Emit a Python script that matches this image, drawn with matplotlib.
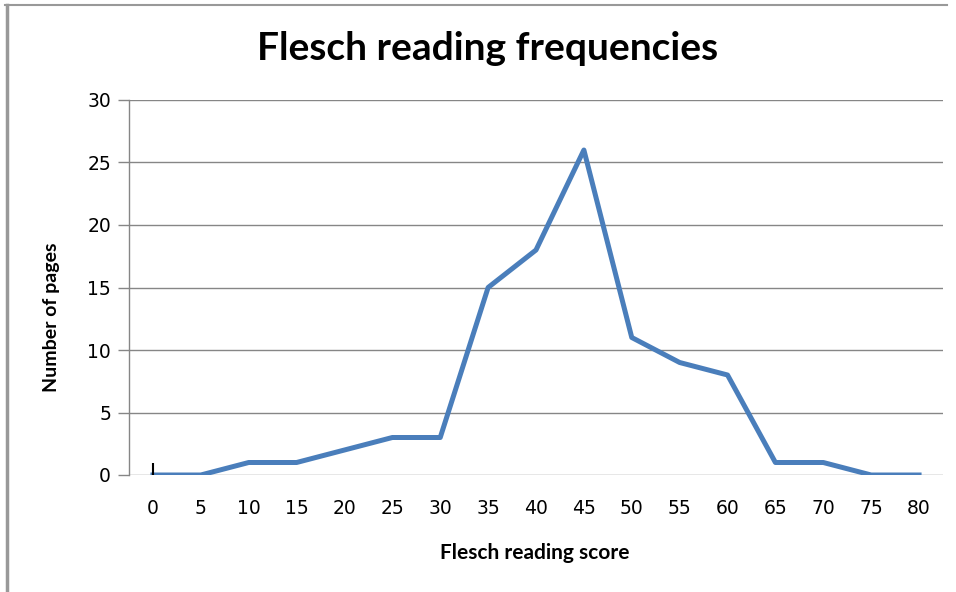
import matplotlib
matplotlib.use("Agg")
import matplotlib.pyplot as plt
from matplotlib.lines import Line2D

scores = [0, 5, 10, 15, 20, 25, 30, 35, 40, 45, 50, 55, 60, 65, 70, 75, 80]
pages = [0, 0, 1, 1, 2, 3, 3, 15, 18, 26, 11, 9, 8, 1, 1, 0, 0]
y_ticks = [0, 5, 10, 15, 20, 25, 30]
title = "Flesch reading frequencies"
x_label = "Flesch reading score"
y_label = "Number of pages"

W, H = 956, 592
fig = plt.figure(figsize=(W / 100, H / 100), dpi=100)
fig.patch.set_facecolor("white")
ax = fig.add_axes([129 / W, (H - 475) / H, (943 - 129) / W, (475 - 100) / H])

idx = list(range(len(scores)))
grid_c = "#868686"
ax.plot(idx, pages, color="#4A7EBB", lw=3.6, solid_joinstyle="round", zorder=3)
ax.vlines(idx[0], pages[0], pages[0] + 1, color="black", lw=1.5, zorder=4)

ax.set_xlim(-0.5, len(scores) - 0.5)
ax.set_ylim(0, 30)
ax.set_yticks(y_ticks)
ax.set_xticks(idx)
ax.set_xticklabels([str(s) for s in scores])
for s in ["top", "right", "bottom"]:
    ax.spines[s].set_visible(False)
ax.spines["left"].set_color(grid_c)
ax.spines["left"].set_linewidth(1)
ax.yaxis.grid(True, color=grid_c, lw=1)
ax.set_axisbelow(True)
ax.tick_params(axis="y", length=8, color=grid_c, width=1, pad=5, labelsize=13.5, labelcolor="black")
ax.tick_params(axis="x", length=0, pad=17, labelsize=13.5, labelcolor="black")
for lab in ax.get_xticklabels() + ax.get_yticklabels():
    lab.set_family("DejaVu Sans")

fig.text(488 / W, 1 - 48 / H, title, ha="center", va="center", fontsize=28,
         fontweight="bold", family="Lato")
fig.text(535 / W, 1 - 553 / H, x_label, ha="center", va="center", fontsize=15,
         fontweight="bold", family="Lato")
fig.text(52 / W, 1 - 317 / H, y_label, ha="center", va="center", fontsize=14,
         fontweight="bold", family="Lato", rotation=90)

# outer frame (top and left edges)
fig.add_artist(Line2D([5 / W, 947 / W], [1 - 5 / H, 1 - 5 / H], color="#999999", lw=1.5))
fig.add_artist(Line2D([7 / W, 7 / W], [0, 1 - 5 / H], color="#999999", lw=2.5))

fig.savefig("out.png", dpi=100)
